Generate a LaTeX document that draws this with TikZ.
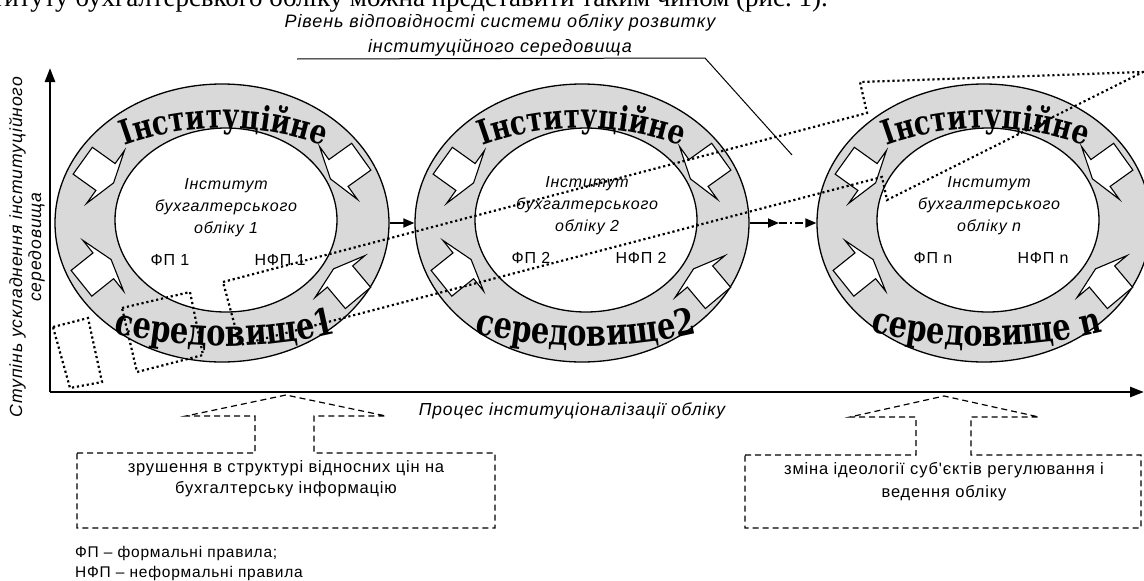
\documentclass[tikz,border=0pt]{standalone}
\usepackage{fontspec}
\setmainfont{Liberation Serif}
\setsansfont{Liberation Sans}
\newfontfamily\lsf[LetterSpace=5]{Liberation Sans}
\newfontfamily\arcf[FakeStretch=0.78]{DejaVu Serif}
\usetikzlibrary{decorations.text,arrows.meta,calc,shapes.geometric}
\tikzset{
 outerband/.style={ellipse, draw, line width=1.3pt, fill=black!15, minimum width=334pt, minimum height=278pt, inner sep=0pt},
 innerband/.style={ellipse, draw, line width=1.3pt, fill=white, minimum width=222pt, minimum height=184pt, inner sep=0pt},
 itlab/.style={font=\lsf\itshape\fontsize{16}{22}\selectfont, align=center, inner sep=0pt},
 uplab/.style={font=\lsf\fontsize{16}{20}\selectfont, inner sep=0pt},
 dotline/.style={line width=2.2pt, dash pattern=on 2.2pt off 2.8pt},
 dashline/.style={line width=1.2pt, dash pattern=on 6pt off 4pt},
 axisline/.style={line width=2.6pt, -{Triangle[length=14pt,width=10pt]}},
 linkarrow/.style={line width=1.8pt, -{Triangle[length=11pt,width=9pt]}},
 callarrow/.pic={\draw[fill=white, line width=1.1pt, line join=miter] (-28,-16.5) -- (0,-16.5) -- (0,-32.5) -- (10,0) -- (0,32.5) -- (0,16.5) -- (-28,16.5) -- cycle;}
}
\newcommand\toparc[3]{\path[decorate, decoration={text along path, text align=center, text={|\arcf\bfseries\fontsize{#3}{#3}\selectfont|#2}}] ($(#1,418)+(245:290)$) arc[start angle=245, end angle=295, radius=290];}
\newcommand\botarc[3]{\path[decorate, decoration={text along path, text align=center, text={|\arcf\bfseries\fontsize{#3}{#3}\selectfont|#2}}] ($(#1,-134)+(108:480)$) arc[start angle=108, end angle=72, radius=480];}
\begin{document}
\begin{tikzpicture}[x=1pt,y=-1pt]
\useasboundingbox (0,0) rectangle (1144,581);
\clip (0,0) rectangle (1144,581);
% cropped line of the page text
\node[anchor=base east, font=\fontsize{27}{32}\selectfont, inner sep=0pt] (pagetxt) at (828,6) {інституту бухгалтерського обліку можна представити таким чином (рис.~1).};
% title label
\node[itlab, font=\lsf\itshape\fontsize{18}{25}\selectfont] (lvl) at (500,35) {Рівень відповідності системи обліку розвитку\\інституційного середовища};
\coordinate (l1) at (297,59);
\coordinate (l2) at (705,58);
\coordinate (l3) at (792,155);
\draw[line width=1pt] (l1) -- (l2) -- (l3);
% circles
\foreach \d/\n in {0/1,360/2,762/3}{
  \node[outerband] (out\n) at (222+\d,223) {};
  \node[innerband] (in\n) at (226+\d,220) {};
  \pic[rotate=-35.6] at (105.5+\d,177) {callarrow};
  \pic[rotate=215.6] at (338.5+\d,173) {callarrow};
  \pic[rotate=38.7] at (103.3+\d,265.8) {callarrow};
  \pic[rotate=130] at (340+\d,276.5) {callarrow};
}
\toparc{224}{Інституційне}{34}
\toparc{582}{Інституційне}{34}
\toparc{986}{Інституційне}{34}
\botarc{225}{середовище1}{37}
\botarc{586}{середовище2}{37}
\botarc{987}{середовище n}{37}
% inner texts
\node[itlab] (it1) at (226,208) {Інститут\\бухгалтерського\\обліку 1};
\node[itlab] (it2) at (587,206) {Інститут\\бухгалтерського\\обліку 2};
\node[itlab] (it3) at (989,206) {Інститут\\бухгалтерського\\обліку n};
\node[uplab] (fp1) at (170,260) {ФП 1};
\node[uplab] (nfp1) at (280,260) {НФП 1};
\node[uplab] (fp2) at (531,258) {ФП 2};
\node[uplab] (nfp2) at (641,258) {НФП 2};
\node[uplab] (fp3) at (933,258) {ФП n};
\node[uplab] (nfp3) at (1043,258) {НФП n};
% links between circles
\coordinate (mid23) at (779,223);
\draw[linkarrow] (out1.east) -- (out2.west);
\draw[linkarrow] (out2.east) -- (mid23);
\draw[linkarrow, dash pattern=on 8pt off 3pt on 2pt off 3pt] (mid23) -- (out3.west);
% axes
\coordinate (orig) at (50,392);
\coordinate (ytip) at (50,68);
\coordinate (xtip) at (1144,392);
\draw[axisline] (orig) -- (ytip);
\draw[axisline] (orig) -- (xtip);
\node[itlab, rotate=90, font=\lsf\itshape\fontsize{17.6}{19}\selectfont] (ylab) at (27,247) {Ступінь ускладнення інституційного\\середовища};
\node[itlab, font=\lsf\itshape\fontsize{17.4}{20}\selectfont] (xlab) at (572,411) {Процес інституціоналізації обліку};
% dotted shapes
\draw[dotline] (53,327) -- (88,318) -- (102,382) -- (70,388) -- cycle;
\draw[dotline] (122,308) -- (190,292) -- (203,355) -- (137,372) -- cycle;
\draw[dotline] (223,282) -- (867,113) -- (860,82) -- (1143,72) -- (887,200) -- (882,177) -- (240,345) -- cycle;
% callouts
\coordinate (apL) at (286,395);
\coordinate (apR) at (944,396);
\draw[dashline] (77,453) -- (255,453) -- (255,416) -- (186,416) -- (apL) -- (386,416) -- (314,416) -- (314,453) -- (495,453) -- (495,528) -- (77,528) -- cycle;
\draw[dashline] (745,455) -- (916,455) -- (916,417) -- (850,417) -- (apR) -- (1039,417) -- (971,417) -- (971,455) -- (1141,455) -- (1141,528) -- (745,528) -- cycle;
\node[uplab, align=center, font=\lsf\fontsize{16.5}{21}\selectfont] (cl) at (286,479) {зрушення в структурі відносних цін на\\бухгалтерську інформацію};
\node[uplab, align=center, font=\lsf\fontsize{16.5}{23}\selectfont] (cr) at (944,482) {зміна ідеології суб'єктів регулювання і\\ведення обліку};
% legend
\node[uplab, anchor=west, font=\lsf\fontsize{15.5}{18}\selectfont] (lg1) at (75,553) {ФП – формальні правила;};
\node[uplab, anchor=west, font=\lsf\fontsize{15.5}{18}\selectfont] (lg2) at (75,573) {НФП – неформальні правила};
\end{tikzpicture}
\end{document}
